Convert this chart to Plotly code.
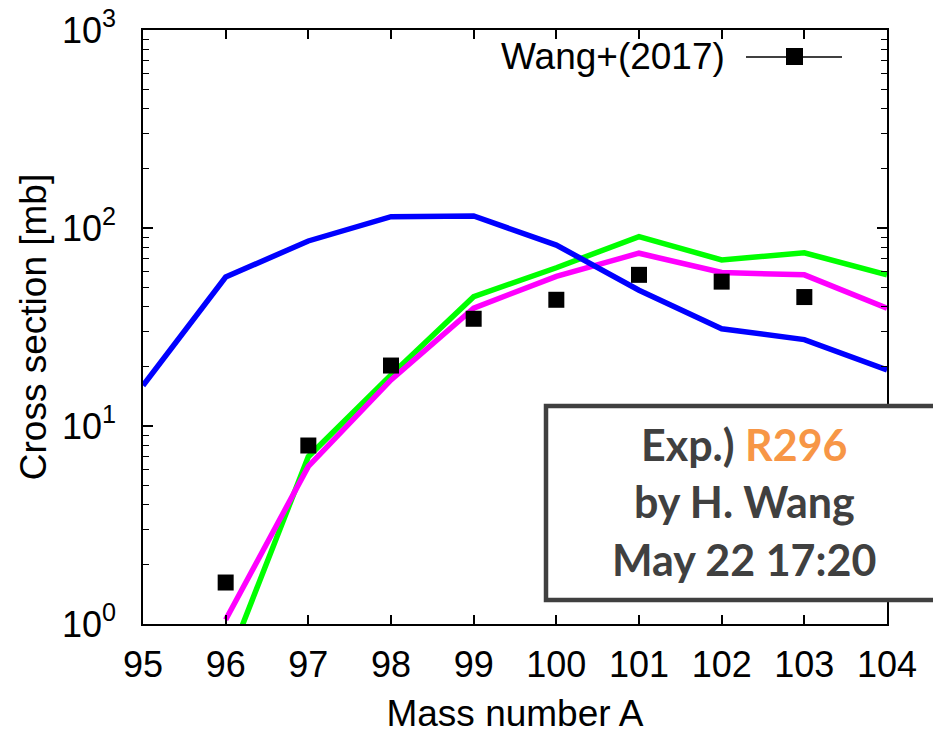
import plotly.graph_objects as go

# Mass numbers of the isotopes
mass_a = [95, 96, 97, 98, 99, 100, 101, 102, 103, 104]

# Model cross sections [mb]
blue_cs = [16.0, 56.5, 86.0, 114.0, 115.0, 82.0, 48.5, 31.0, 27.3, 19.2]
green_cs = [None, 0.6, 7.0, 18.1, 45.0, 63.0, 90.5, 69.0, 75.0, 58.0]
magenta_cs = [None, 1.05, 6.25, 17.1, 39.4, 57.0, 74.6, 59.6, 58.0, 39.3]

# Measured cross sections, Wang+(2017)
exp_a = [96, 97, 98, 99, 100, 101, 102, 103]
exp_cs = [1.62, 7.97, 20.2, 34.8, 43.4, 58.0, 53.6, 44.8]

# Axis ticks
x_ticks = [95, 96, 97, 98, 99, 100, 101, 102, 103, 104]
y_ticks = [1, 10, 100, 1000]
y_ticktext = ["10<sup>0</sup>", "10<sup>1</sup>", "10<sup>2</sup>", "10<sup>3</sup>"]

FONT = "Liberation Sans"
W, H = 933, 734
ML, MR, MT, MB = 143, 46, 30, 110
PW, PH = W - ML - MR, H - MT - MB


def px(x):
    return (x - ML) / PW


def py(y):
    return (H - MB - y) / PH


fig = go.Figure()

for ys, col in [(green_cs, "#00ff00"), (magenta_cs, "#ff00ff"), (blue_cs, "#0000ff")]:
    fig.add_trace(go.Scatter(
        x=mass_a, y=ys, mode="lines",
        line=dict(color=col, width=5.5), showlegend=False,
        connectgaps=False))

# measured points, on the companion axis (same log scale) that also carries minor ticks
fig.add_trace(go.Scatter(
    x=exp_a, y=exp_cs, mode="markers", yaxis="y2",
    marker=dict(symbol="square", size=16, color="black"),
    showlegend=False, name="Wang+(2017)"))

fig.update_layout(
    xaxis=dict(
        range=[95, 104], tickvals=x_ticks, ticks="inside", ticklen=9,
        tickwidth=1.5, tickcolor="black", showline=True, mirror="ticks",
        linecolor="black", linewidth=1.5, showgrid=False, zeroline=False,
        ticklabelstandoff=8, automargin=False,
        tickfont=dict(family=FONT, size=36, color="black"),
        title=dict(text="Mass number A",
                   font=dict(family=FONT, size=37, color="black"), standoff=22)),
    yaxis=dict(
        type="log", range=[0, 3], tickvals=y_ticks, ticktext=y_ticktext,
        ticks="inside", ticklen=10, tickwidth=1.5, tickcolor="black",
        showline=True, mirror="ticks", linecolor="black", linewidth=1.5,
        showgrid=False, zeroline=False, ticklabelstandoff=18, automargin=False,
        tickfont=dict(family=FONT, size=36, color="black"),
        title=dict(text="Cross section [mb]",
                   font=dict(family=FONT, size=37, color="black"), standoff=4)),
    yaxis2=dict(
        type="log", range=[0, 3], overlaying="y", anchor="x", side="left",
        tickmode="linear", tick0=0, dtick="D1", ticks="inside", ticklen=6,
        tickwidth=1.2, tickcolor="black", showticklabels=False, mirror="ticks",
        showline=False, showgrid=False, zeroline=False, automargin=False),
)

shapes = [
    # legend key: line with a square marker
    dict(type="line", xref="paper", yref="paper", x0=px(746), x1=px(842),
         y0=py(57), y1=py(57), line=dict(color="black", width=1.5)),
    dict(type="rect", xref="paper", yref="paper", x0=px(786), x1=px(803),
         y0=py(65), y1=py(48), fillcolor="black", line=dict(width=0)),
    # run info box
    dict(type="rect", xref="paper", yref="paper", x0=px(546), x1=px(960),
         y0=py(600), y1=py(406), fillcolor="white",
         line=dict(color="#404040", width=4.5), layer="above"),
]

annotations = [
    dict(text="Wang+(2017)", xref="paper", yref="paper", x=px(727), y=py(57),
         xanchor="right", yanchor="middle", showarrow=False,
         font=dict(family=FONT, size=37, color="black")),
]
box_font = dict(family="Lato", size=43, color="#404040")
box_lines = [
    ("<b>Exp.) <span style='color:#f79646'>R296</span></b>", 444),
    ("<b>by H. Wang</b>", 501),
    ("<b>May 22 17:20</b>", 559),
]
for txt, yc in box_lines:
    annotations.append(dict(text=txt, xref="paper", yref="paper", x=px(744), y=py(yc),
                            xanchor="center", yanchor="middle", showarrow=False,
                            font=box_font))

fig.update_layout(
    width=W, height=H, margin=dict(l=ML, r=MR, t=MT, b=MB, autoexpand=False),
    plot_bgcolor="white", paper_bgcolor="white",
    shapes=shapes, annotations=annotations, showlegend=False)

fig.write_html("out.html")
